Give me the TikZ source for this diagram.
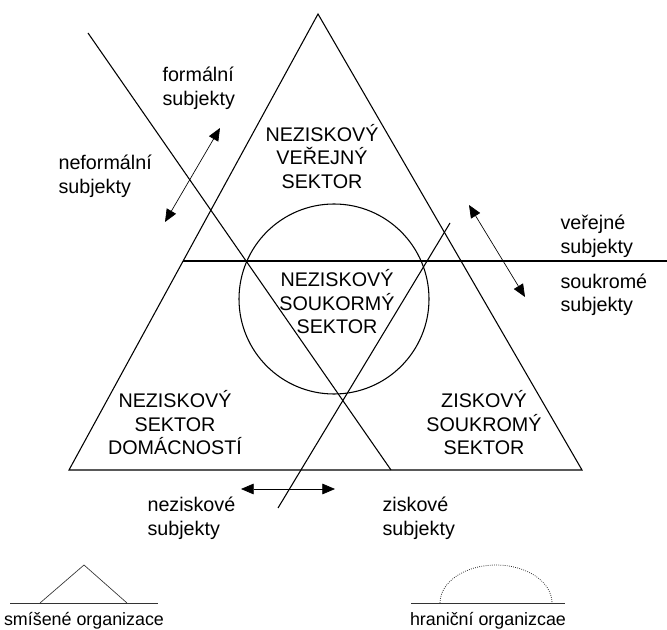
\documentclass[tikz,border=0pt]{standalone}
\usepackage{fontspec}
\setmainfont{Liberation Sans}
\usetikzlibrary{arrows.meta}

\begin{document}
\begin{tikzpicture}
  [x=0.75pt,y=-0.75pt,line width=0.8pt,
   every node/.style={inner sep=0pt,font=\fontsize{14.8}{17.6}\selectfont},
   sektor/.style={align=center},
   lbl/.style={align=left,anchor=west},
   both/.style={line width=0.5pt,{Triangle[length=9.5pt,width=8pt]}-{Triangle[length=9.5pt,width=8pt]}},
   small/.style={line width=0.5pt,black!80},
   legend/.style={anchor=base,font=\fontsize{13.4}{16}\selectfont}]
  \useasboundingbox (0,0) rectangle (667,630);

  % triangle and crossing lines
  \coordinate (top) at (318,14);
  \coordinate (bl) at (69,470);
  \coordinate (br) at (582,470);
  \coordinate (h1) at (183,261);
  \coordinate (h2) at (667,261);
  \coordinate (d1a) at (88,33);
  \coordinate (d1b) at (391,470);
  \coordinate (d2a) at (278,508);
  \coordinate (d2b) at (450,223);
  \draw (top) -- (bl) -- (br) -- cycle;
  \node (ring) [draw,circle,minimum size=142.5pt] at (334,299) {};
  \foreach \from/\to in {h1/h2,d1a/d1b,d2a/d2b}
    \draw (\from) -- (\to);

  % arrows
  \coordinate (f1) at (165,222);
  \coordinate (f2) at (220,128);
  \coordinate (v1) at (469,205);
  \coordinate (v2) at (525,297);
  \coordinate (n1) at (241,489);
  \coordinate (n2) at (335,489);
  \foreach \from/\to in {f1/f2,v1/v2,n1/n2}
    \draw[both] (\from) -- (\to);

  % sectors
  \node (verejny) [sektor] at (322,156.5) {NEZISKOVÝ\\VEŘEJNÝ\\SEKTOR};
  \node (soukormy) [sektor] at (337,302) {NEZISKOVÝ\\SOUKORMÝ\\SEKTOR};
  \node (domacnosti) [sektor] at (175,423) {NEZISKOVÝ\\SEKTOR\\DOMÁCNOSTÍ};
  \node (ziskovy) [sektor] at (484,423) {ZISKOVÝ\\SOUKROMÝ\\SEKTOR};

  % subjects
  \node (formalni) [lbl] at (162,88.5) {formální\\subjekty};
  \node (neformalni) [lbl] at (58,176.5) {neformální\\subjekty};
  \node (verejne) [lbl] at (560,236.5) {veřejné\\subjekty};
  \node (soukrome) [lbl] at (560,295) {soukromé\\subjekty};
  \node (neziskove) [lbl] at (147,518.5) {neziskové\\subjekty};
  \node (ziskove) [lbl] at (382,518.5) {ziskové\\subjekty};

  % legend
  \draw[small] (10,603) -- (158,603);
  \draw[small] (40,603) -- (84,565) -- (127,603);
  \node (smisene) [legend] at (84,625) {smíšené organizace};
  \draw[small] (411,603) -- (565,603);
  \draw[small,line width=0.6pt,densely dotted] (440,603) arc[start angle=180,end angle=360,x radius=56,y radius=38];
  \node (hranicni) [legend] at (488,625) {hraniční organizcae};
\end{tikzpicture}
\end{document}
